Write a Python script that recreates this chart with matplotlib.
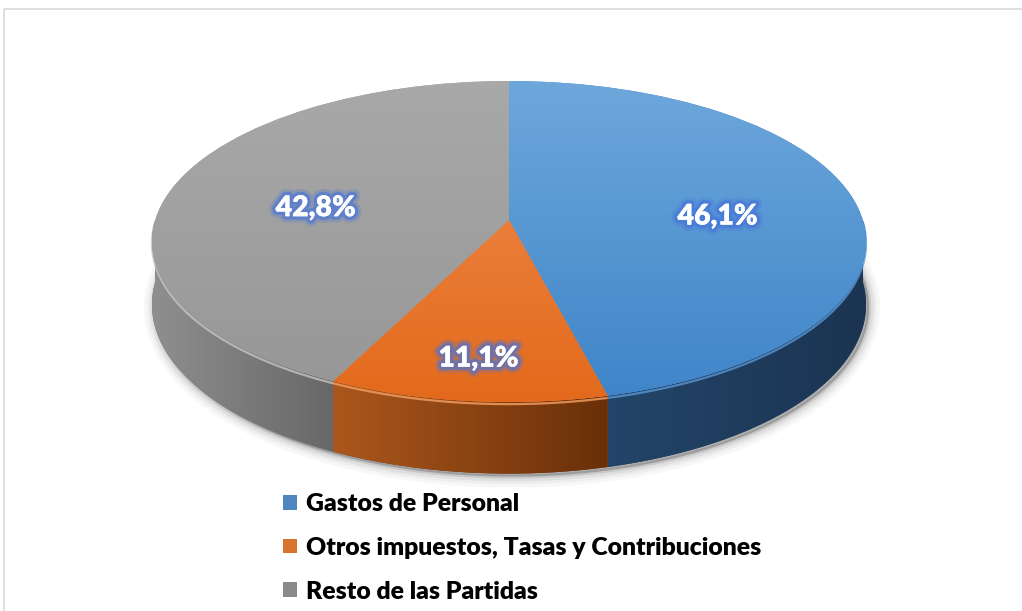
import numpy as np
import matplotlib
matplotlib.use("Agg")
import matplotlib.pyplot as plt
import matplotlib.transforms as mtransforms
import matplotlib.patheffects as pe
from matplotlib.patches import Polygon, Rectangle, Patch
from matplotlib.colors import to_rgb

# ---------------- data ----------------
categories = ["Gastos de Personal",
              "Otros impuestos, Tasas y Contribuciones",
              "Resto de las Partidas"]
values = [46.1, 11.1, 42.8]

# ---------------- style ----------------
base_colors = ["#4a8ccf", "#ea7428", "#9e9e9e"]
top_grad = [("#6fa8dc", "#3d84c8"), ("#f08f52", "#e3691b"), ("#a9a9a9", "#969696")]
side_grad = [("#234569", "#1b3452"), ("#ab571c", "#6a3009"), ("#8f8f8f", "#676767")]
rim_colors = ["#5a97d4", "#f7a064", "#c4c4c4"]
legend_colors = ["#4f86c0", "#d9742f", "#8a8a8a"]
label_radius = [0.6, 0.75, 0.57]

W, H = 1022, 611
CX, CY = 509.0, 220.0          # pie apex (pixels)
A, B, K, D0 = 353.8, 157.6, 0.134, 62.0


def project(u, v, h=0.0):
    w = 1.0 + K * v
    return CX + A * u / w, CY + (-B * v + D0 * h) / w


class PerspTransform(mtransforms.Transform):
    input_dims = 2
    output_dims = 2
    is_separable = False
    has_inverse = False

    def transform_non_affine(self, values):
        vals = np.asarray(values, dtype=float)
        one = vals.ndim == 1
        vals = np.atleast_2d(vals)
        x, y = project(vals[:, 0], vals[:, 1])
        out = np.column_stack([x, y])
        return out[0] if one else out


fig = plt.figure(figsize=(W / 100, H / 100), dpi=100)
ax = fig.add_axes([0, 0, 1, 1])

pct_fmt = lambda p: f"{p:.1f}%".replace(".", ",")
wedges, texts, autotexts = ax.pie(values, startangle=90, counterclock=False,
                                  colors=base_colors, autopct=pct_fmt,
                                  pctdistance=0.6,
                                  wedgeprops=dict(linewidth=0))
ax.set_aspect("auto")
ax.set_xlim(0, W)
ax.set_ylim(H, 0)
ax.axis("off")

persp = PerspTransform() + ax.transData

# shadow under the pie
ts_all = np.linspace(0, 2 * np.pi, 300)
sx, sy = project(np.cos(ts_all), np.sin(ts_all), 1.0)
for lw, al in [(16, 0.03), (11, 0.04), (7, 0.06), (3, 0.10)]:
    ax.add_patch(Polygon(np.column_stack([sx + 3, sy + 3]), closed=True,
                         facecolor=(0, 0, 0, al), edgecolor=(0, 0, 0, al),
                         lw=lw, zorder=1))

# side walls (front half only)
for i, w in enumerate(wedges):
    t1, t2 = w.theta1, w.theta2
    for off in (-360, 0, 360):
        lo, hi = max(t1, -180 + off), min(t2, 0 + off)
        if hi <= lo:
            continue
        ts = np.radians(np.linspace(lo, hi, 120))
        x0, y0 = project(np.cos(ts), np.sin(ts), 0.0)
        x1, y1 = project(np.cos(ts), np.sin(ts), 1.0)
        verts = np.column_stack([np.r_[x0, x1[::-1]], np.r_[y0, y1[::-1]]])
        poly = Polygon(verts, closed=True, facecolor=side_grad[i][1],
                       edgecolor="none", zorder=2)
        ax.add_patch(poly)
        c0, c1 = np.array(to_rgb(side_grad[i][0])), np.array(to_rgb(side_grad[i][1]))
        xmin, xmax = verts[:, 0].min(), verts[:, 0].max()
        g = np.linspace(0, 1, 64)[None, :, None]
        img = c0[None, None, :] * (1 - g) + c1[None, None, :] * g
        im = ax.imshow(img, extent=(xmin, xmax, verts[:, 1].max(), verts[:, 1].min()),
                       aspect="auto", interpolation="bilinear", zorder=2.1)
        im.set_clip_path(poly)
        # bevel highlight on the top edge
        xr, yr = project(np.cos(ts), np.sin(ts), 0.03)
        ax.plot(xr, yr, color=rim_colors[i], lw=1.6, alpha=0.8, zorder=2.2,
                solid_capstyle="butt")

# top surface
for i, w in enumerate(wedges):
    w.set_transform(persp)
    w.set_zorder(3)
    c0, c1 = np.array(to_rgb(top_grad[i][0])), np.array(to_rgb(top_grad[i][1]))
    g = np.linspace(0, 1, 64)[:, None, None]
    img = c0[None, None, :] * (1 - g) + c1[None, None, :] * g
    im = ax.imshow(img, extent=(130, 890, 410, 70), aspect="auto",
                   interpolation="bilinear", zorder=3.5)
    im.set_clip_path(w)

ax.set_xlim(0, W)
ax.set_ylim(H, 0)

# percentage labels
glow = [pe.withStroke(linewidth=9, foreground=(0.27, 0.45, 0.85, 0.25)),
        pe.withStroke(linewidth=5, foreground=(0.27, 0.45, 0.85, 0.6)),
        pe.Normal()]
for i, (w, t) in enumerate(zip(wedges, autotexts)):
    mid = np.radians((w.theta1 + w.theta2) / 2)
    r = label_radius[i]
    t.set_position((r * np.cos(mid), r * np.sin(mid)))
    t.set_transform(persp + mtransforms.Affine2D().translate(0, -8))
    t.set(color="white", fontsize=20.5, fontweight="heavy", family="Lato",
          ha="center", va="center", zorder=6)
    t.set_path_effects(glow)

# legend
handles = [Patch(facecolor=c, edgecolor="none") for c in legend_colors]
ax.legend(handles, categories, loc="upper left",
          bbox_to_anchor=(283 / W, 1 - 493 / H), bbox_transform=fig.transFigure,
          frameon=False, prop=dict(family="Lato", weight="heavy", size=17.8),
          handlelength=0.55, handleheight=0.55, handletextpad=0.4,
          labelspacing=0.88, borderaxespad=0, borderpad=0)

# chart-area border
ax.add_patch(Rectangle((3.5, 8.5), W + 20, H + 20, fill=False,
                       edgecolor="#d9d9d9", lw=1.2, clip_on=False, zorder=0))

fig.savefig("out.png", dpi=100)
